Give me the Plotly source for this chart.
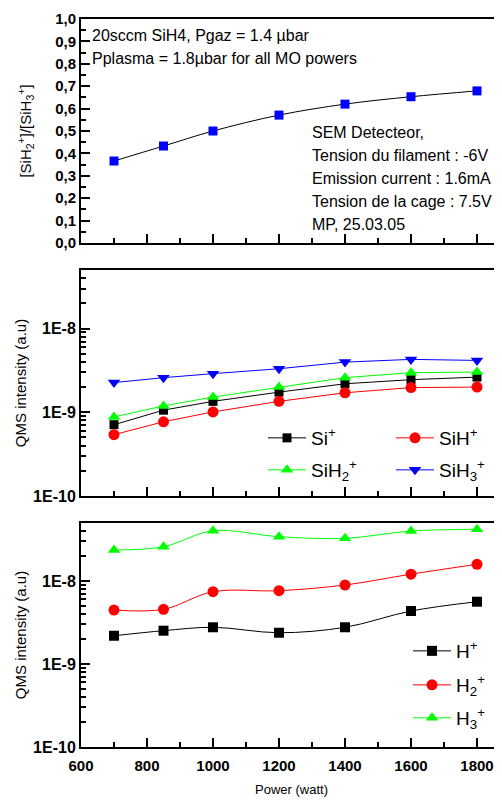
import numpy as np
import plotly.graph_objects as go

power = [700, 850, 1000, 1200, 1400, 1600, 1800]

ratio_sih2_sih3 = [0.366, 0.433, 0.500, 0.571, 0.620, 0.653, 0.679]

si_plus = [7.1e-10, 1.06e-9, 1.35e-9, 1.74e-9, 2.19e-9, 2.45e-9, 2.63e-9]
sih_plus = [5.4e-10, 7.7e-10, 1.01e-9, 1.35e-9, 1.71e-9, 1.97e-9, 2.0e-9]
sih2_plus = [8.8e-10, 1.19e-9, 1.52e-9, 2.0e-9, 2.59e-9, 2.97e-9, 3.02e-9]
sih3_plus = [2.26e-9, 2.59e-9, 2.89e-9, 3.31e-9, 3.97e-9, 4.28e-9, 4.16e-9]

h_plus = [2.19e-9, 2.52e-9, 2.77e-9, 2.38e-9, 2.77e-9, 4.35e-9, 5.63e-9]
h2_plus = [4.47e-9, 4.56e-9, 7.43e-9, 7.64e-9, 8.95e-9, 1.21e-8, 1.59e-8]
h3_plus = [2.36e-8, 2.59e-8, 4.03e-8, 3.42e-8, 3.27e-8, 4.0e-8, 4.2e-8]

ratio_ticks = [0.0, 0.1, 0.2, 0.3, 0.4, 0.5, 0.6, 0.7, 0.8, 0.9, 1.0]
ratio_ticktext = ["0,0", "0,1", "0,2", "0,3", "0,4", "0,5", "0,6", "0,7", "0,8", "0,9", "1,0"]
log_ticks = [1e-10, 1e-9, 1e-8]
log_ticktext = ["1E-10", "1E-9", "1E-8"]
x_ticks = [600, 800, 1000, 1200, 1400, 1600, 1800]
x_ticktext = ["600", "800", "1000", "1200", "1400", "1600", "1800"]

FONT = "Liberation Sans, Arial, sans-serif"
BLACK, RED, GREEN, BLUE = "#000000", "#FF0000", "#00FF00", "#0000FF"

# The page body has an 8px margin; work in screen pixels and convert.
OFF = 8
W, H = 502 - OFF, 801 - OFF
L = 81 - OFF            # left axis at screen x=81
T = 19 - OFF            # top frame at screen y=19
B = H - (747 - OFF)     # bottom axis at screen y=747
R = 0
PH = H - T - B
PW = W - L - R
def py(ypx):            # screen y -> paper fraction
    return (H - B - (ypx - OFF)) / PH
def px(xpx):            # screen x -> paper fraction
    return (xpx - OFF - L) / PW

fig = go.Figure()

# Top panel
fig.add_trace(go.Scatter(x=power, y=ratio_sih2_sih3, mode="lines+markers",
                         line=dict(color=BLACK, width=1, shape="spline"),
                         marker=dict(symbol="square", size=9, color=BLUE),
                         showlegend=False, xaxis="x", yaxis="y"))

# Middle panel
mid = [("Si<sup>+</sup>", si_plus, BLACK, "square", 9, "legend"),
       ("SiH<sup>+</sup>", sih_plus, RED, "circle", 11, "legend"),
       ("SiH<sub>2</sub><sup>+</sup>", sih2_plus, GREEN, "triangle-up", 11, "legend2"),
       ("SiH<sub>3</sub><sup>+</sup>", sih3_plus, BLUE, "triangle-down", 11, "legend2")]
for name, vals, col, sym, sz, lg in mid:
    fig.add_trace(go.Scatter(x=power, y=vals, name=name, mode="lines+markers",
                             line=dict(color=col, width=1),
                             marker=dict(symbol=sym, size=sz, color=col),
                             xaxis="x2", yaxis="y2", legend=lg))

# Bottom panel
bot = [("H<sup>+</sup>", h_plus, BLACK, "square", 10, "legend3"),
       ("H<sub>2</sub><sup>+</sup>", h2_plus, RED, "circle", 11, "legend4"),
       ("H<sub>3</sub><sup>+</sup>", h3_plus, GREEN, "triangle-up", 11, "legend5")]
for name, vals, col, sym, sz, lg in bot:
    fig.add_trace(go.Scatter(x=power, y=vals, name=name, mode="lines+markers",
                             line=dict(color=col, width=1, shape="spline"),
                             marker=dict(symbol=sym, size=sz, color=col),
                             xaxis="x3", yaxis="y3", legend=lg))

xr = [600, 600 + PW / ((477 - 81) / 1200)]
def xaxis_cfg(anchor, labels):
    d = dict(range=xr, anchor=anchor, domain=[0, 1], automargin=False,
             showline=True, linewidth=2, linecolor=BLACK, mirror=True,
             ticks="inside", ticklen=9, tickwidth=1.5, tickcolor=BLACK,
             tickvals=x_ticks, showgrid=False, zeroline=False,
             showticklabels=labels,
             minor=dict(ticks="inside", ticklen=5, tickwidth=1.5, tickcolor=BLACK,
                        tickvals=[700, 900, 1100, 1300, 1500, 1700]))
    if labels:
        d["ticktext"] = ["<b>%s</b>" % t for t in x_ticktext]
        d["tickfont"] = dict(family=FONT, size=15, color=BLACK)
        d["ticklabelstandoff"] = 4
        d["title"] = dict(text="Power (watt)", font=dict(family=FONT, size=13, color=BLACK),
                          standoff=12)
    return d

log_minor = [m * 10.0 ** e for e in (-10, -9, -8) for m in range(2, 10) if m * 10.0 ** e <= 5e-8]

def logaxis_cfg(anchor, dom):
    return dict(type="log", range=[-10, np.log10(5e-8)], anchor=anchor, domain=dom,
                automargin=False, showline=True, linewidth=2,
                linecolor=BLACK, ticks="inside", ticklen=9, tickwidth=1.5, tickcolor=BLACK,
                tickvals=log_ticks, ticktext=["<b>%s</b>" % t for t in log_ticktext],
                showgrid=False, zeroline=False,
                tickfont=dict(family=FONT, size=16, color=BLACK),
                minor=dict(ticks="inside", ticklen=5, tickwidth=1.5, tickcolor=BLACK,
                           tickvals=log_minor),
                title=dict(text="QMS intensity (a.u)",
                           font=dict(family=FONT, size=15, color=BLACK), standoff=3))

def legend_cfg(marker_x, ypx):
    return dict(x=px(marker_x - 23), y=py(ypx), xanchor="left", yanchor="middle",
                orientation="h", entrywidth=75, entrywidthmode="pixels", itemwidth=38,
                font=dict(family=FONT, size=19, color=BLACK),
                bgcolor="rgba(0,0,0,0)", tracegroupgap=0)

fig.update_layout(
    width=W, height=H,
    margin=dict(l=L, r=R, t=T, b=B, autoexpand=False),
    paper_bgcolor="white", plot_bgcolor="white",
    font=dict(family=FONT, color=BLACK),
    xaxis=xaxis_cfg("y", False),
    yaxis=dict(domain=[py(243), py(19)], anchor="x", range=[0, 1.0], automargin=False,
               showline=True, linewidth=2,
               linecolor=BLACK, ticks="inside", ticklen=9, tickwidth=1.5, tickcolor=BLACK,
               tickvals=ratio_ticks, ticktext=["<b>%s</b>" % t for t in ratio_ticktext],
               showgrid=False, zeroline=False,
               tickfont=dict(family=FONT, size=15, color=BLACK),
               minor=dict(ticks="inside", ticklen=5, tickwidth=1.5, tickcolor=BLACK,
                          tickvals=[0.05, 0.15, 0.25, 0.35, 0.45, 0.55, 0.65, 0.75, 0.85, 0.95]),
               title=dict(text="[SiH<sub>2</sub><sup>+</sup>]/[SiH<sub>3</sub><sup>+</sup>]",
                          font=dict(family=FONT, size=15, color=BLACK), standoff=20)),
    xaxis2=xaxis_cfg("y2", False),
    yaxis2=logaxis_cfg("x2", [py(496), py(270)]),
    xaxis3=xaxis_cfg("y3", True),
    yaxis3=logaxis_cfg("x3", [py(747), py(523)]),
    legend=legend_cfg(286, 438),
    legend2=legend_cfg(286, 470),
    legend3=legend_cfg(431, 651),
    legend4=legend_cfg(431, 685),
    legend5=legend_cfg(431, 718),
    showlegend=True,
)

ann_font = dict(family=FONT, size=16, color=BLACK)
top_notes = [("20sccm SiH4, Pgaz = 1.4 \u00b5bar", 35),
             ("Pplasma = 1.8\u00b5bar for all MO powers", 58)]
for txt, ypx in top_notes:
    fig.add_annotation(text=txt, xref="paper", yref="paper", x=px(90),
                       y=py(ypx), xanchor="left", yanchor="middle",
                       showarrow=False, font=ann_font)

sem_notes = ["SEM Detecteor,", "Tension du filament : -6V", "Emission current : 1.6mA",
             "Tension de la cage : 7.5V", "MP, 25.03.05"]
for i, txt in enumerate(sem_notes):
    fig.add_annotation(text=txt, xref="paper", yref="paper", x=px(310),
                       y=py(132 + 23 * i), xanchor="left", yanchor="middle",
                       showarrow=False, font=ann_font)

fig.write_html("out.html")
